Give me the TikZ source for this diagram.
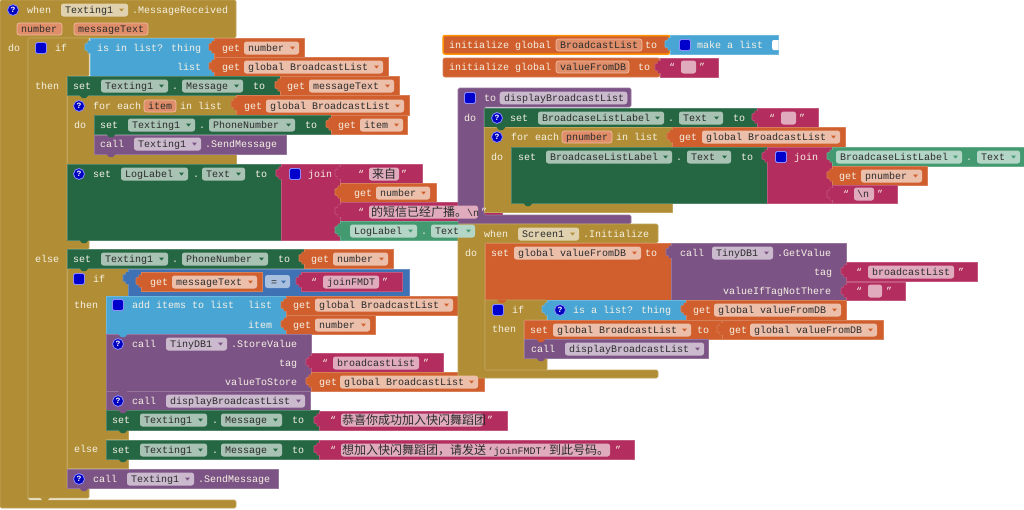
\documentclass[tikz,border=0pt]{standalone}
\usepackage{fontspec}
\setmainfont{Liberation Mono}
\newfontfamily\cjk{Noto Sans CJK SC}
\definecolor{cTan}{HTML}{B18E35}
\definecolor{cOrg}{HTML}{D05F2D}
\definecolor{cBlu}{HTML}{49A6D4}
\definecolor{cLog}{HTML}{3F71B5}
\definecolor{cGrn}{HTML}{266743}
\definecolor{cLgr}{HTML}{439970}
\definecolor{cCrm}{HTML}{B32D5E}
\definecolor{cPur}{HTML}{7C5385}
\definecolor{cPrm}{HTML}{E08E6A}
\definecolor{cPrl}{HTML}{F0BBA2}
\definecolor{cInk}{HTML}{2B2B2B}
\definecolor{cTxt}{HTML}{F6F1E4}
\newcount\nid
\newcommand{\nn}{\global\advance\nid by 1 }
\tikzset{
  edge/.style={line width=0.55pt,draw=#1!80!white,fill=#1,line join=round},
  lighttext/.style={inner sep=0pt,anchor=base west,text=cTxt,font=\fontsize{10}{12}\selectfont},
  inktext/.style={inner sep=0pt,anchor=base west,text=cInk,font=\fontsize{10}{12}\selectfont},
}
\newcommand{\bk}[5]{\draw[edge=#1] (#2,#3) rectangle (#4,#5);}
\newcommand{\val}[5]{\draw[edge=#1] (#2,#3+3) -- (#2-2,#3+3) -- (#2-2,#3+5) -- (#2-5,#3+6) -- (#2-5,#3+12) -- (#2-2,#3+13) -- (#2-2,#3+15) -- (#2,#3+15) -- cycle;
  \bk{#1}{#2}{#3}{#4}{#5}\fill[#1] (#2-2,#3+3.4) rectangle (#2+1,#3+14.6);}
\newcommand{\dn}[3]{\fill[#1] (#2+12,#3-.5) -- (#2+15,#3+3) -- (#2+19,#3+3) -- (#2+22,#3-.5) -- cycle;}
\newcommand{\tx}[3]{\nn\node[lighttext] (n\the\nid) at (#1,#2+3) {#3};}
\newcommand{\ink}[3]{\nn\node[inktext] (n\the\nid) at (#1,#2+3) {#3};}
\newcommand{\fd}[5]{\fill[#1!40!white,rounded corners=2.5pt] (#2,#4-6.5) rectangle (#3,#4+6.5);
  \ink{#2+4}{#4}{#5}\fill[#1] (#3-9,#4-1.5) -- (#3-4,#4-1.5) -- (#3-6.5,#4+1.5) -- cycle;}
\newcommand{\pl}[6]{\draw[line width=.7pt,draw=#2,fill=#1,rounded corners=2.5pt] (#3,#5-6) rectangle (#4,#5+6);\ink{#3+4}{#5}{#6}}
\newcommand{\st}[3]{\fill[cCrm!40!white,rounded corners=2.5pt] (#1,#3-6.5) rectangle (#2,#3+6.5);}
\newcommand{\qm}[2]{\draw[line width=.8pt,draw=blue!45!white,fill=blue!75!black] (#1,#2) circle (5.5);
  \nn\node[inner sep=0pt,text=white,font=\fontsize{8}{8}\selectfont\bfseries] (n\the\nid) at (#1,#2) {?};}
\newcommand{\sq}[2]{\draw[line width=.8pt,draw=blue!45!white,fill=blue!80!black,rounded corners=1.5pt] (#1-5.5,#2-5.5) rectangle (#1+5.5,#2+5.5);}
\begin{document}
\begin{tikzpicture}[x=1pt,y=-1pt]
\useasboundingbox (0,0) rectangle (1024,509);
\fill[white] (0,0) rectangle (1024,509);
% ---------- tan skeleton, left event
\draw[edge=cTan,rounded corners=1.5pt] (0,0) -- (236,0) -- (236,38) -- (28,38) -- (28,500) -- (236,500) -- (236,508) -- (0,508) -- cycle;
\draw[edge=cTan,rounded corners=1pt] (28,38) -- (89,38) -- (89,76) -- (67,76) -- (67,240) -- (89,240) -- (89,249) -- (67,249) -- (67,488) -- (89,488) -- (89,498) -- (28,498) -- cycle;
\draw[edge=cTan] (67,95) -- (236,95) -- (236,115) -- (94,115) -- (94,154) -- (236,154) -- (236,164) -- (67,164) -- cycle;
\draw[edge=cTan] (67,268) -- (128,268) -- (128,296) -- (106,296) -- (106,430) -- (128,430) -- (128,439) -- (106,439) -- (106,459) -- (128,459) -- (128,468) -- (67,468) -- cycle;
% top values
\val{cBlu}{90}{38}{214}{76}
\val{cOrg}{214}{38}{304}{57}
\val{cOrg}{214}{57}{388}{76}
\bk{cGrn}{67}{76}{280}{95}
\val{cOrg}{280}{76}{399}{95}
\val{cOrg}{236}{95}{409}{115}
\bk{cGrn}{94}{115}{331}{134}
\val{cOrg}{331}{115}{407}{134}
\bk{cPur}{94}{135}{286}{154}
\bk{cGrn}{67}{164}{281}{240}
\val{cCrm}{281}{164}{340}{240}
\val{cCrm}{340}{164}{422}{183}
\val{cOrg}{340}{183}{436}{202}
\val{cCrm}{340}{202}{502}{221}
\val{cLgr}{340}{221}{479}{240}
\bk{cGrn}{67}{249}{304}{268}
\val{cOrg}{304}{249}{393}{268}
\val{cLog}{128}{269}{409}{296}
\val{cOrg}{141}{272}{262}{291}
\val{cCrm}{301}{272}{402}{291}
\fill[cLog!45!white,rounded corners=2.5pt] (265,275) rectangle (290,288);
\bk{cBlu}{106}{296}{286}{334}
\val{cOrg}{286}{296}{459}{315}
\val{cOrg}{286}{315}{375}{334}
\bk{cPur}{106}{334}{311}{391}
\val{cCrm}{311}{353}{443}{372}
\val{cOrg}{311}{372}{484}{391}
\bk{cPur}{106}{391}{310}{410}
\bk{cGrn}{106}{410}{319}{430}
\val{cCrm}{319}{411}{507}{430}
\bk{cGrn}{106}{440}{319}{459}
\val{cCrm}{319}{440}{634}{459}
\bk{cPur}{67}{469}{278}{488}
\dn{cGrn}{67}{95}\dn{cGrn}{94}{134}\dn{cPur}{94}{154}\dn{cGrn}{67}{240}\dn{cGrn}{67}{268}\dn{cBlu}{106}{334}\dn{cPur}{106}{391}\dn{cPur}{106}{410}\dn{cGrn}{106}{430}\dn{cGrn}{106}{459}\dn{cPur}{67}{488}\dn{cTan}{28}{498}
% ---------- init blocks
\draw[line width=1.5pt,draw=orange!85!yellow,fill=cOrg,rounded corners=2pt] (443,35.5) rectangle (670,54);
\val{cBlu}{670}{35}{778}{54}
\fill[white] (778.6,40) -- (773,40) -- (772,42) -- (772,48) -- (773,50) -- (778.6,50) -- cycle;
\draw[edge=cOrg,rounded corners=2pt] (443,58) rectangle (660,77);
\val{cCrm}{660}{58}{718}{77}
% ---------- procedure
\draw[edge=cPur,rounded corners=1.5pt] (458,88) -- (631,88) -- (631,107) -- (484,107) -- (484,215) -- (631,215) -- (631,224) -- (458,224) -- cycle;
\bk{cGrn}{484}{108}{757}{127}
\val{cCrm}{757}{108}{818}{127}
\draw[edge=cTan] (484,127) -- (672,127) -- (672,147) -- (511,147) -- (511,203) -- (672,203) -- (672,212) -- (484,212) -- cycle;
\val{cOrg}{672}{127}{845}{147}
\bk{cGrn}{511}{147}{767}{203}
\val{cCrm}{767}{147}{832}{203}
\val{cLgr}{832}{147}{1024}{166}
\val{cOrg}{832}{166}{927}{185}
\val{cCrm}{832}{185}{897}{203}
\dn{cGrn}{484}{127}\dn{cGrn}{511}{203}
% ---------- when Screen1
\draw[edge=cTan,rounded corners=1.5pt] (458,224) -- (658,224) -- (658,243) -- (485,243) -- (485,370) -- (658,370) -- (658,378) -- (458,378) -- cycle;
\bk{cOrg}{485}{243}{671}{300}
\val{cPur}{671}{243}{846}{300}
\val{cCrm}{846}{262}{977}{281}
\val{cCrm}{846}{282}{905}{300}
\draw[edge=cTan,rounded corners=1pt] (485,300) -- (547,300) -- (547,320) -- (524,320) -- (524,358) -- (547,358) -- (547,370) -- (485,370) -- cycle;
\val{cBlu}{547}{300}{686}{320}
\val{cOrg}{686}{300}{846}{320}
\bk{cOrg}{524}{320}{722}{339}
\val{cOrg}{722}{320}{883}{339}
\bk{cPur}{524}{339}{708}{358}
\dn{cOrg}{485}{300}\dn{cOrg}{524}{339}\dn{cPur}{524}{358}
% ========== texts, left
\qm{13}{10}\tx{27}{10}{when}\fd{cTan}{61}{128}{10}{Texting1}\tx{132}{10}{.MessageReceived}
\pl{cPrm}{cPrl}{17}{62}{29}{number}\pl{cPrm}{cPrl}{74}{148}{29}{messageText}
\tx{8}{48}{do}\sq{41}{48}\tx{55}{48}{if}
\tx{97}{48}{is in list? thing}\tx{177}{67}{list}
\tx{222}{48}{get}\fd{cOrg}{244}{299}{48}{number}
\tx{222}{67}{get}\fd{cOrg}{244}{383}{67}{global BroadcastList}
\tx{35}{86}{then}\tx{73}{86}{set}\fd{cGrn}{101}{168}{86}{Texting1}\tx{172}{86}{.}\fd{cGrn}{182}{243}{86}{Message}\tx{253}{86}{to}
\tx{287}{86}{get}\fd{cOrg}{309}{394}{86}{messageText}
\qm{79}{106}\tx{93}{106}{for each}\pl{cPrm}{cPrl}{144}{176}{106}{item}\tx{180}{106}{in list}
\tx{244}{106}{get}\fd{cOrg}{266}{404}{106}{global BroadcastList}
\tx{74}{125}{do}\tx{100}{125}{set}\fd{cGrn}{128}{195}{125}{Texting1}\tx{199}{125}{.}\fd{cGrn}{209}{295}{125}{PhoneNumber}\tx{305}{125}{to}
\tx{338}{125}{get}\fd{cOrg}{360}{403}{125}{item}
\tx{100}{144}{call}\fd{cPur}{134}{201}{144}{Texting1}\tx{205}{144}{.SendMessage}
\qm{79}{174}\tx{93}{174}{set}\fd{cGrn}{121}{188}{174}{LogLabel}\tx{193}{174}{.}\fd{cGrn}{202}{245}{174}{Text}\tx{255}{174}{to}\sq{295}{174}\tx{308}{174}{join}
\tx{358}{174}{“}\st{369}{399}{174}\nn\node[inktext] (n\the\nid) at (372,178) {\fontsize{12}{12}\selectfont\cjk 来自};\tx{401}{174}{”}
\tx{354}{193}{get}\fd{cOrg}{376}{430}{193}{number}
\tx{358}{212}{“}\st{369}{478}{212}\nn\node[inktext] (n\the\nid) at (371,216) {{\fontsize{12}{12}\selectfont\cjk 的短信已经广播。}\textbackslash n};\tx{481}{212}{”}
\fd{cLgr}{350}{417}{231}{LogLabel}\tx{421}{231}{.}\fd{cLgr}{431}{475}{231}{Text}
\tx{35}{259}{else}\tx{73}{259}{set}\fd{cGrn}{101}{168}{259}{Texting1}\tx{172}{259}{.}\fd{cGrn}{182}{268}{259}{PhoneNumber}\tx{278}{259}{to}
\tx{311}{259}{get}\fd{cOrg}{333}{388}{259}{number}
\sq{79}{279}\tx{93}{279}{if}\tx{150}{282}{get}\fd{cOrg}{172}{257}{282}{messageText}
\ink{271}{282}{=}\fill[cLog] (281,280.5) -- (286,280.5) -- (283.5,283.5) -- cycle;
\tx{311}{282}{“}\st{323}{379}{282}\ink{327}{282}{joinFMDT}\tx{382}{282}{”}
\tx{74}{305}{then}\sq{118}{305}\tx{132}{305}{add items to list}\tx{248}{305}{list}\tx{293}{305}{get}\fd{cOrg}{315}{453}{305}{global BroadcastList}
\tx{248}{325}{item}\tx{293}{325}{get}\fd{cOrg}{315}{370}{325}{number}
\qm{118}{344}\tx{132}{344}{call}\fd{cPur}{166}{227}{344}{TinyDB1}\tx{231}{344}{.StoreValue}
\tx{279}{363}{tag}\tx{322}{363}{“}\st{333}{419}{363}\ink{337}{363}{broadcastList}\tx{423}{363}{”}
\tx{225}{382}{valueToStore}\tx{319}{382}{get}\fd{cOrg}{340}{478}{382}{global BroadcastList}
\qm{118}{401}\tx{132}{401}{call}\fd{cPur}{166}{305}{401}{displayBroadcastList}
\tx{112}{420}{set}\fd{cGrn}{140}{207}{420}{Texting1}\tx{212}{420}{.}\fd{cGrn}{221}{282}{420}{Message}\tx{292}{420}{to}
\tx{330}{420}{“}\st{341}{483}{420}\nn\node[inktext] (n\the\nid) at (342,424) {\fontsize{12}{12}\selectfont\cjk 恭喜你成功加入快闪舞蹈团};\tx{487}{420}{”}
\tx{74}{449}{else}\tx{112}{450}{set}\fd{cGrn}{140}{207}{450}{Texting1}\tx{212}{450}{.}\fd{cGrn}{221}{282}{450}{Message}\tx{292}{450}{to}
\tx{330}{450}{“}\st{341}{610}{450}\nn\node[inktext] (n\the\nid) at (342,454) {{\fontsize{12}{12}\selectfont\cjk 想加入快闪舞蹈团，请发送}\hspace{1.5pt}‘joinFMDT’\hspace{1.5pt}{\fontsize{12}{12}\selectfont\cjk 到此号码。}};\tx{615}{450}{”}
\qm{79}{479}\tx{93}{479}{call}\fd{cPur}{127}{194}{479}{Texting1}\tx{198}{479}{.SendMessage}
% ========== texts, right
\tx{449}{45}{initialize global}\pl{cPrm}{cPrl}{556}{642}{45}{BroadcastList}\tx{645}{45}{to}\sq{685}{45}\tx{697}{45}{make a list}
\tx{449}{67}{initialize global}\pl{cPrm}{cPrl}{556}{629}{67}{valueFromDB}\tx{638}{67}{to}\tx{669}{67}{“}\st{681}{696}{67}\tx{699}{67}{”}
\sq{470}{98}\tx{484}{98}{to}\pl{cPur!40!white}{cPur!40!white}{500}{627}{98}{displayBroadcastList}
\tx{464}{118}{do}\qm{497}{118}\tx{510}{118}{set}\fd{cGrn}{538}{664}{118}{BroadcaseListLabel}\tx{668}{118}{.}\fd{cGrn}{679}{723}{118}{Text}\tx{733}{118}{to}
\tx{769}{118}{“}\st{781}{796}{118}\tx{799}{118}{”}
\qm{497}{137}\tx{511}{137}{for each}\pl{cPrm}{cPrl}{562}{612}{137}{pnumber}\tx{616}{137}{in list}\tx{679}{137}{get}\fd{cOrg}{702}{840}{137}{global BroadcastList}
\tx{491}{157}{do}\tx{518}{157}{set}\fd{cGrn}{546}{672}{157}{BroadcaseListLabel}\tx{676}{157}{.}\fd{cGrn}{687}{731}{157}{Text}\tx{741}{157}{to}\sq{781}{157}\tx{794}{157}{join}
\fd{cLgr}{836}{962}{157}{BroadcaseListLabel}\tx{966}{157}{.}\fd{cLgr}{977}{1020}{157}{Text}
\tx{839}{176}{get}\fd{cOrg}{861}{922}{176}{pnumber}
\tx{843}{194}{“}\st{854}{874}{194}\ink{857}{194}{\textbackslash n}\tx{877}{194}{”}
\tx{484}{234}{when}\fd{cTan}{518}{579}{234}{Screen1}\tx{583}{234}{.Initialize}
\tx{465}{253}{do}\tx{491}{253}{set}\fd{cOrg}{514}{641}{253}{global valueFromDB}\tx{645}{253}{to}
\tx{680}{253}{call}\fd{cPur}{712}{773}{253}{TinyDB1}\tx{777}{253}{.GetValue}
\tx{814}{272}{tag}\tx{856}{272}{“}\st{868}{954}{272}\ink{872}{272}{broadcastList}\tx{958}{272}{”}
\tx{723}{291}{valueIfTagNotThere}\tx{856}{291}{“}\st{868}{882}{291}\tx{886}{291}{”}
\sq{498}{310}\tx{512}{310}{if}\qm{560}{310}\tx{573}{310}{is a list? thing}\tx{693}{310}{get}\fd{cOrg}{714}{841}{310}{global valueFromDB}
\tx{492}{329}{then}\tx{530}{330}{set}\fd{cOrg}{553}{691}{330}{global BroadcastList}\tx{697}{330}{to}\tx{729}{330}{get}\fd{cOrg}{750}{877}{330}{global valueFromDB}
\tx{531}{349}{call}\fd{cPur}{565}{704}{349}{displayBroadcastList}
\end{tikzpicture}
\end{document}
